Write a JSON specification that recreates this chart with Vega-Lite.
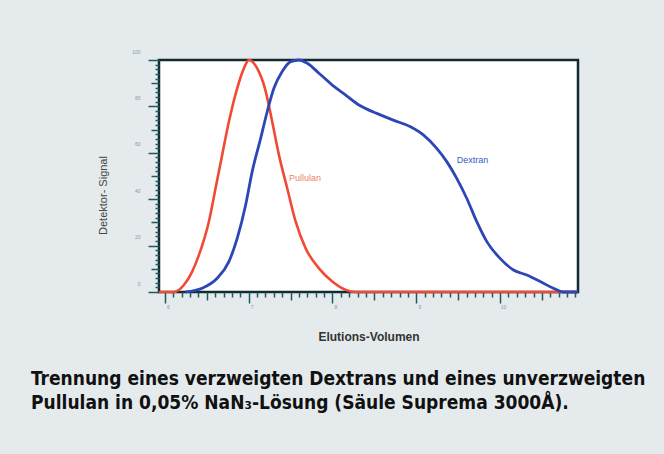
{
  "$schema": "https://vega.github.io/schema/vega-lite/v6.json",
  "width": 419,
  "height": 232,
  "autosize": "none",
  "padding": {"left": 159, "top": 60, "right": 86, "bottom": 162},
  "background": "#e5ebec",
  "config": {
    "view": {"fill": "white", "stroke": "#132a2e", "strokeWidth": 2.5},
    "font": "Liberation Sans"
  },
  "title": {
    "text": [
      "Trennung eines verzweigten Dextrans und eines unverzweigten",
      "Pullulan in 0,05% NaN₃-Lösung (Säule Suprema 3000Å)."
    ],
    "orient": "bottom",
    "anchor": "start",
    "frame": "group",
    "dx": -128,
    "offset": 28,
    "font": "Liberation Sans Narrow, DejaVu Sans Condensed, Roboto Condensed, sans-serif",
    "fontSize": 19,
    "fontWeight": "bold",
    "color": "#111111",
    "lineHeight": 24
  },
  "datasets": {
    "pullulan": [
      {"x": 5.93, "y": 0}, {"x": 6.107, "y": 0}, {"x": 6.227, "y": 3.0}, {"x": 6.326, "y": 8.8},
      {"x": 6.406, "y": 15.9}, {"x": 6.525, "y": 30.3}, {"x": 6.605, "y": 44.7}, {"x": 6.684, "y": 59.1},
      {"x": 6.764, "y": 73.4}, {"x": 6.863, "y": 87.8}, {"x": 6.943, "y": 96.4}, {"x": 7.003, "y": 100},
      {"x": 7.102, "y": 96.4}, {"x": 7.194, "y": 87.8}, {"x": 7.281, "y": 73.4}, {"x": 7.361, "y": 59.1},
      {"x": 7.46, "y": 44.7}, {"x": 7.561, "y": 30.3}, {"x": 7.68, "y": 18.8}, {"x": 7.839, "y": 10.2},
      {"x": 7.998, "y": 4.5}, {"x": 8.158, "y": 0.9}, {"x": 8.277, "y": 0}, {"x": 10.93, "y": 0}
    ],
    "dextran": [
      {"x": 6.247, "y": 0}, {"x": 6.445, "y": 1.6}, {"x": 6.624, "y": 5.9}, {"x": 6.764, "y": 13.1},
      {"x": 6.863, "y": 23.1}, {"x": 6.964, "y": 37.5}, {"x": 7.042, "y": 51.9}, {"x": 7.143, "y": 66.2},
      {"x": 7.221, "y": 77.7}, {"x": 7.301, "y": 87.8}, {"x": 7.4, "y": 95.0}, {"x": 7.501, "y": 99.3},
      {"x": 7.6, "y": 100}, {"x": 7.699, "y": 98.6}, {"x": 7.839, "y": 94.3}, {"x": 7.998, "y": 89.2},
      {"x": 8.158, "y": 84.9}, {"x": 8.316, "y": 80.6}, {"x": 8.436, "y": 78.4}, {"x": 8.528, "y": 77.0},
      {"x": 8.726, "y": 74.1}, {"x": 8.925, "y": 71.3}, {"x": 9.084, "y": 67.7}, {"x": 9.244, "y": 61.9},
      {"x": 9.364, "y": 56.2}, {"x": 9.483, "y": 49.0}, {"x": 9.602, "y": 40.4}, {"x": 9.722, "y": 30.3},
      {"x": 9.842, "y": 21.7}, {"x": 10.0, "y": 14.5}, {"x": 10.159, "y": 9.5}, {"x": 10.319, "y": 7.3},
      {"x": 10.478, "y": 4.5}, {"x": 10.636, "y": 1.6}, {"x": 10.755, "y": 0}, {"x": 10.93, "y": 0}
    ],
    "labels": [
      {"series": "Pullulan", "x": 7.48, "y": 49.3},
      {"series": "Dextran", "x": 9.483, "y": 56.9}
    ]
  },
  "encoding": {
    "x": {
      "field": "x",
      "type": "quantitative",
      "scale": {"domain": [5.93, 10.93], "nice": false, "zero": false},
      "axis": {
        "title": "Elutions-Volumen",
        "titleFont": "Liberation Sans",
        "titleFontSize": 12,
        "titleFontWeight": "bold",
        "titleColor": "#333333",
        "titleY": 44,
        "titleBaseline": "middle",
        "domain": false,
        "grid": false,
        "values": [6.0, 6.1, 6.2, 6.3, 6.4, 6.5, 6.6, 6.7, 6.8, 6.9, 7.0, 7.1, 7.2, 7.3, 7.4, 7.5, 7.6, 7.7, 7.8, 7.9, 8.0, 8.1, 8.2, 8.3, 8.4, 8.5, 8.6, 8.7, 8.8, 8.9, 9.0, 9.1, 9.2, 9.3, 9.4, 9.5, 9.6, 9.7, 9.8, 9.9, 10.0, 10.1, 10.2, 10.3, 10.4, 10.5, 10.6, 10.7, 10.8, 10.9],
        "tickColor": "#1d5864",
        "tickWidth": 1.5,
        "tickSize": {
          "condition": [
            {"test": "round(datum.value * 10) % 10 === 0", "value": 11},
            {"test": "round(datum.value * 10) % 5 === 0", "value": 8}
          ],
          "value": 5
        },
        "labelExpr": "round(datum.value * 10) % 10 === 0 ? '' + round(datum.value) : ''",
        "labelFontSize": 5,
        "labelColor": "#7f9aab",
        "labelOffset": 3,
        "labelPadding": 1
      }
    },
    "y": {
      "field": "y",
      "type": "quantitative",
      "scale": {"domain": [0, 100], "nice": false},
      "axis": {
        "title": "Detektor- Signal",
        "titleFont": "Liberation Sans",
        "titleFontSize": 11,
        "titleFontWeight": "normal",
        "titleColor": "#444444",
        "titleX": -56,
        "titleY": 135,
        "titleAlign": "center",
        "titleBaseline": "middle",
        "domain": false,
        "grid": false,
        "values": [0, 2, 4, 6, 8, 10, 12, 14, 16, 18, 20, 22, 24, 26, 28, 30, 32, 34, 36, 38, 40, 42, 44, 46, 48, 50, 52, 54, 56, 58, 60, 62, 64, 66, 68, 70, 72, 74, 76, 78, 80, 82, 84, 86, 88, 90, 92, 94, 96, 98, 100],
        "tickColor": "#1d5864",
        "tickWidth": 1.5,
        "tickSize": {
          "condition": [
            {"test": "datum.value % 20 === 0", "value": 11},
            {"test": "datum.value % 10 === 0", "value": 8}
          ],
          "value": 4
        },
        "labelExpr": "datum.value % 20 === 0 ? datum.label : ''",
        "labelFontSize": 5,
        "labelColor": "#7f9aab",
        "labelOffset": -9,
        "labelPadding": 8
      }
    }
  },
  "layer": [
    {
      "data": {"name": "pullulan"},
      "mark": {"type": "line", "interpolate": "monotone", "color": "#f04a35", "strokeWidth": 2.6}
    },
    {
      "data": {"name": "dextran"},
      "mark": {"type": "line", "interpolate": "monotone", "color": "#2c47b5", "strokeWidth": 2.8}
    },
    {
      "data": {"name": "labels"},
      "mark": {"type": "text", "align": "left", "baseline": "middle", "fontSize": 9, "font": "Liberation Sans"},
      "encoding": {
        "text": {"field": "series", "type": "nominal"},
        "color": {
          "field": "series",
          "type": "nominal",
          "scale": {"domain": ["Pullulan", "Dextran"], "range": ["#f07f66", "#3557c8"]},
          "legend": null
        }
      }
    }
  ]
}
